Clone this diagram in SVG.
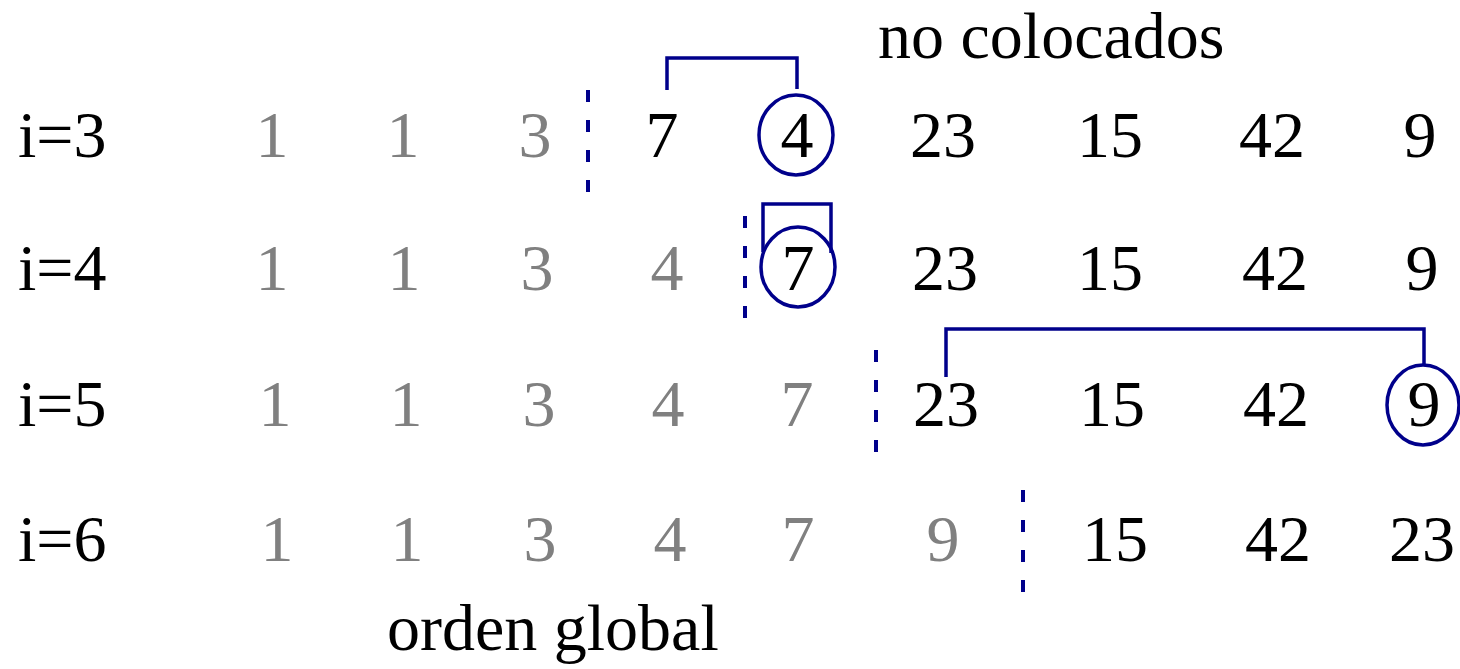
<svg xmlns="http://www.w3.org/2000/svg" width="1460" height="669" viewBox="0 0 1460 669">
<style>
text{font-family:"Liberation Serif","Times New Roman",serif;font-size:66px}
.lbl{fill:#000}
.d{fill:#000;text-anchor:middle}
.g{fill:#808080;text-anchor:middle}
.sep{stroke:#00008B;stroke-width:4;stroke-dasharray:12 18;fill:none}
.br{stroke:#00008B;stroke-width:3.5;fill:none}
.sel{stroke:#00008B;stroke-width:3.5;fill:none}
</style>
<rect width="1460" height="669" fill="#fff"/>
<text x="878" y="58">no colocados</text>
<text x="387" y="650">orden global</text>
<g id="row1">
<text class="lbl" x="18" y="157">i=3</text>
<text class="g" x="272" y="157">1</text>
<text class="g" x="403" y="157">1</text>
<text class="g" x="535" y="157">3</text>
<text class="d" x="662" y="157">7</text>
<text class="d" x="797" y="157">4</text>
<text class="d" x="943" y="157">23</text>
<text class="d" x="1110" y="157">15</text>
<text class="d" x="1272" y="157">42</text>
<text class="d" x="1420" y="157">9</text>
<ellipse class="sel" cx="796" cy="135" rx="37" ry="40"/>
</g>
<g id="row2">
<text class="lbl" x="18" y="290">i=4</text>
<text class="g" x="272" y="290">1</text>
<text class="g" x="404" y="290">1</text>
<text class="g" x="537" y="290">3</text>
<text class="g" x="667" y="290">4</text>
<text class="d" x="798" y="290">7</text>
<text class="d" x="945" y="290">23</text>
<text class="d" x="1110" y="290">15</text>
<text class="d" x="1275" y="290">42</text>
<text class="d" x="1422" y="290">9</text>
<ellipse class="sel" cx="798" cy="267" rx="37" ry="40"/>
</g>
<g id="row3">
<text class="lbl" x="18" y="426">i=5</text>
<text class="g" x="275" y="426">1</text>
<text class="g" x="406" y="426">1</text>
<text class="g" x="539" y="426">3</text>
<text class="g" x="668" y="426">4</text>
<text class="g" x="797" y="426">7</text>
<text class="d" x="946" y="426">23</text>
<text class="d" x="1112" y="426">15</text>
<text class="d" x="1276" y="426">42</text>
<text class="d" x="1424" y="426">9</text>
<ellipse class="sel" cx="1423" cy="405" rx="36" ry="40"/>
</g>
<g id="row4">
<text class="lbl" x="18" y="561">i=6</text>
<text class="g" x="277" y="561">1</text>
<text class="g" x="407" y="561">1</text>
<text class="g" x="540" y="561">3</text>
<text class="g" x="670" y="561">4</text>
<text class="g" x="798" y="561">7</text>
<text class="g" x="943" y="561">9</text>
<text class="d" x="1115" y="561">15</text>
<text class="d" x="1278" y="561">42</text>
<text class="d" x="1422" y="561">23</text>
</g>
<g id="connectors">
<line class="sep" x1="588" y1="90" x2="588" y2="192"/>
<line class="sep" x1="745" y1="216" x2="745" y2="318"/>
<line class="sep" x1="876" y1="350" x2="876" y2="452"/>
<line class="sep" x1="1023" y1="490" x2="1023" y2="592"/>
<path class="br" d="M667,90 V58 H797 V89"/>
<path class="br" d="M763,252 V204 H831 V253"/>
<path class="br" d="M946,377 V329 H1424 V366"/>
</g>
</svg>
